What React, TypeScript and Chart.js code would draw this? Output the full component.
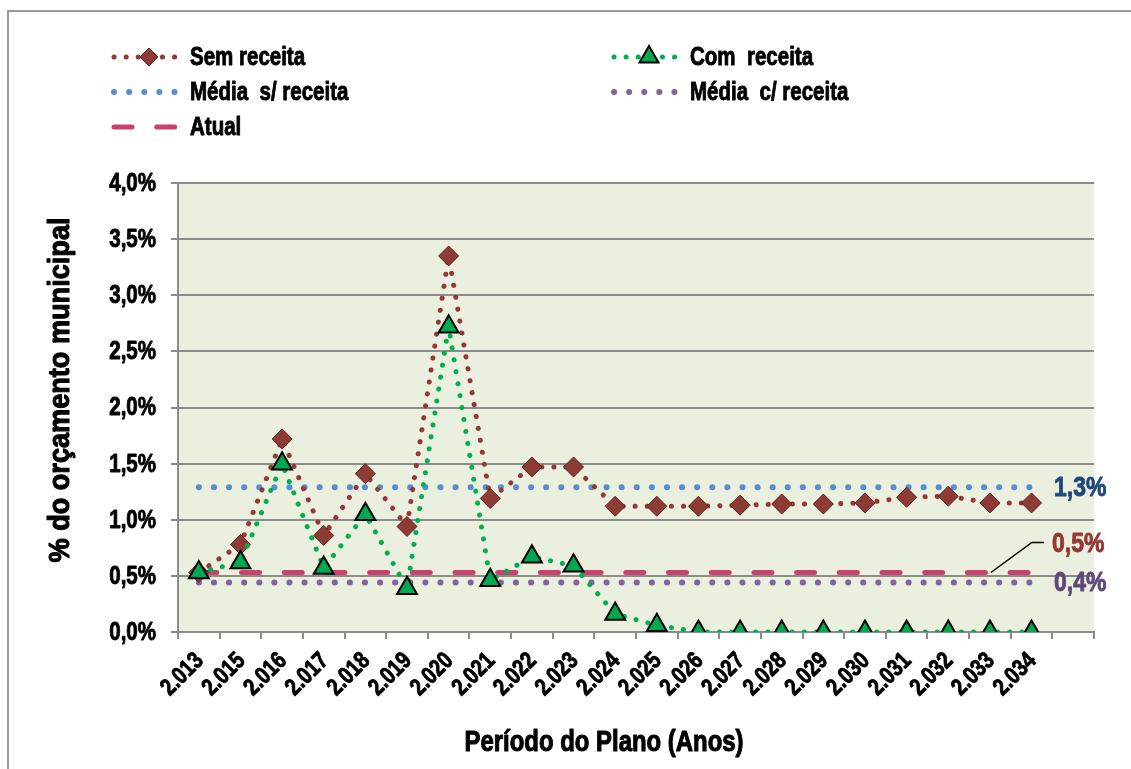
import React, { useEffect, useRef } from "react";
import { Chart, registerables } from "chart.js";

Chart.register(...registerables);

const categories = [
  "2.013", "2.015", "2.016", "2.017", "2.018", "2.019", "2.020", "2.021", "2.022", "2.023", "2.024",
  "2.025", "2.026", "2.027", "2.028", "2.029", "2.030", "2.031", "2.032", "2.033", "2.034", "",
];
const semReceita = [0.53, 0.78, 1.72, 0.86, 1.41, 0.94, 3.35, 1.19, 1.47, 1.47, 1.12, 1.12, 1.12, 1.13, 1.14, 1.14, 1.15, 1.2, 1.21, 1.15, 1.15];
const comReceita = [0.53, 0.62, 1.5, 0.57, 1.05, 0.39, 2.72, 0.46, 0.67, 0.59, 0.16, 0.06, 0, 0, 0, 0, 0, 0, 0, 0, 0];
const mediaSemReceita = [1.29, 1.29, 1.29, 1.29, 1.29, 1.29, 1.29, 1.29, 1.29, 1.29, 1.29, 1.29, 1.29, 1.29, 1.29, 1.29, 1.29, 1.29, 1.29, 1.29, 1.29];
const mediaComReceita = [0.44, 0.44, 0.44, 0.44, 0.44, 0.44, 0.44, 0.44, 0.44, 0.44, 0.44, 0.44, 0.44, 0.44, 0.44, 0.44, 0.44, 0.44, 0.44, 0.44, 0.44];
const atual = [0.53, 0.53, 0.53, 0.53, 0.53, 0.53, 0.53, 0.53, 0.53, 0.53, 0.53, 0.53, 0.53, 0.53, 0.53, 0.53, 0.53, 0.53, 0.53, 0.53, 0.53];
const seriesNames = ["Sem receita", "Com  receita", "Média  s/ receita", "Média  c/ receita", "Atual"];
const endLabels = ["1,3%", "0,5%", "0,4%"];
const yTickValues = [0, 0.5, 1, 1.5, 2, 2.5, 3, 3.5, 4];
const xTitle = "Período do Plano (Anos)";
const yTitle = "% do orçamento municipal";

const FONT = "'Liberation Sans', Arial, sans-serif";
const NARROW = 0.82;

function narrowText(ctx: CanvasRenderingContext2D, text: string, x: number, y: number, sx: number, align: "left" | "right" | "center", weight = 0.9) {
  const w = ctx.measureText(text).width * sx;
  let x0 = x;
  if (align === "right") x0 = x - w;
  else if (align === "center") x0 = x - w / 2;
  ctx.save();
  ctx.textAlign = "left";
  ctx.translate(x0, y);
  ctx.scale(sx, 1);
  ctx.fillText(text, 0, 0);
  ctx.strokeStyle = ctx.fillStyle as string;
  ctx.lineWidth = weight;
  ctx.lineJoin = "round";
  ctx.strokeText(text, 0, 0);
  ctx.restore();
}

const bgPlugin = {
  id: "bgPlugin",
  beforeDraw(chart: any) {
    const { ctx, chartArea } = chart;
    ctx.save();
    ctx.fillStyle = "#EBEFDD";
    ctx.fillRect(chartArea.left, chartArea.top, chartArea.right - chartArea.left, chartArea.bottom - chartArea.top);
    ctx.strokeStyle = "#9a9a9a";
    ctx.lineWidth = 2;
    ctx.beginPath();
    ctx.moveTo(8, chart.height);
    ctx.lineTo(8, 11);
    ctx.lineTo(chart.width, 11);
    ctx.stroke();
    ctx.restore();
  },
};

function drawPt(ctx: CanvasRenderingContext2D, style: string, r: number, x: number, y: number) {
  ctx.beginPath();
  if (style === "rectRot") {
    ctx.moveTo(x, y - r);
    ctx.lineTo(x + r, y);
    ctx.lineTo(x, y + r);
    ctx.lineTo(x - r, y);
  } else {
    const s = r * Math.sqrt(3);
    const h = (s * Math.sqrt(3)) / 2;
    ctx.moveTo(x, y - (2 * h) / 3);
    ctx.lineTo(x + s / 2, y + h / 3);
    ctx.lineTo(x - s / 2, y + h / 3);
  }
  ctx.closePath();
  ctx.fill();
  ctx.stroke();
}

const decorPlugin = {
  id: "decorPlugin",
  afterDraw(chart: any) {
    const { ctx, chartArea, scales } = chart;
    const xS = scales.x;
    const yS = scales.y;
    ctx.save();
    ctx.fillStyle = "#000";
    ctx.textBaseline = "middle";

    // y tick labels
    ctx.font = `bold 25px ${FONT}`;
    yS.ticks.forEach((t: any, i: number) => {
      const label = Number(t.value).toFixed(1).replace(".", ",") + "%";
      narrowText(ctx, label, chartArea.left - 22, yS.getPixelForTick(i) + 1, NARROW, "right");
    });

    // x tick labels (rotated)
    ctx.font = `bold 24px ${FONT}`;
    categories.forEach((c, i) => {
      if (!c) return;
      const px = xS.getPixelForValue(i);
      ctx.save();
      ctx.translate(px + 1, chartArea.bottom + 25);
      ctx.rotate(-Math.PI / 4);
      narrowText(ctx, c, 0, 0, NARROW, "right");
      ctx.restore();
    });

    // axis titles
    ctx.font = `bold 30px ${FONT}`;
    {
      const w = ctx.measureText(xTitle).width;
      narrowText(ctx, xTitle, 604, 743, 279 / w, "center", 1.1);
    }
    ctx.save();
    ctx.translate(61, 390);
    ctx.rotate(-Math.PI / 2);
    {
      const w = ctx.measureText(yTitle).width;
      narrowText(ctx, yTitle, 0, 0, 345 / w, "center", 1.1);
    }
    ctx.restore();

    // legend
    const items = [
      { ds: 0, x: 112, y: 57 },
      { ds: 1, x: 612, y: 57 },
      { ds: 2, x: 112, y: 92 },
      { ds: 3, x: 612, y: 92 },
      { ds: 4, x: 112, y: 127 },
    ];
    ctx.font = `bold 25px ${FONT}`;
    for (const it of items) {
      const ds = chart.data.datasets[it.ds];
      ctx.save();
      ctx.strokeStyle = ds.borderColor;
      ctx.lineWidth = ds.borderWidth;
      ctx.lineCap = "round";
      ctx.setLineDash(ds.borderDash || []);
      ctx.beginPath();
      ctx.moveTo(it.x + 2, it.y);
      ctx.lineTo(it.x + 68, it.y);
      ctx.stroke();
      ctx.restore();
      if (ds.pointRadius > 0) {
        ctx.save();
        ctx.fillStyle = ds.pointBackgroundColor;
        ctx.strokeStyle = ds.pointBorderColor;
        ctx.lineWidth = ds.pointBorderWidth;
        drawPt(ctx, ds.pointStyle, ds.pointStyle === "rectRot" ? 9 : 11, it.x + 37, it.y);
        ctx.restore();
      }
      ctx.fillStyle = "#000";
      narrowText(ctx, ds.label, it.x + 78, it.y + 1, NARROW, "left");
    }

    // end labels
    ctx.font = `bold 28px ${FONT}`;
    const lx = chartArea.right - 40;
    ctx.fillStyle = "#1F497D";
    narrowText(ctx, endLabels[0], lx, yS.getPixelForValue(mediaSemReceita[20]) + 1, NARROW, "left");
    ctx.fillStyle = "#953735";
    narrowText(ctx, endLabels[1], lx - 2, yS.getPixelForValue(atual[20]) - 28, NARROW, "left");
    ctx.fillStyle = "#5F497A";
    narrowText(ctx, endLabels[2], lx, yS.getPixelForValue(mediaComReceita[20]) + 1, NARROW, "left");

    // leader line
    const sx = xS.getPixelForValue(19);
    const sy = yS.getPixelForValue(atual[19]);
    ctx.strokeStyle = "#000";
    ctx.lineWidth = 1.5;
    ctx.setLineDash([]);
    ctx.beginPath();
    ctx.moveTo(sx + 1, sy);
    ctx.lineTo(sx + 42, sy - 30);
    ctx.lineTo(sx + 54, sy - 30);
    ctx.stroke();
    ctx.restore();
  },
};

export default function App() {
  const ref = useRef<HTMLCanvasElement>(null);
  useEffect(() => {
    if (!ref.current) return;
    const chart = new Chart(ref.current, {
      type: "line",
      data: {
        labels: categories,
        datasets: [
          {
            label: seriesNames[0],
            data: semReceita,
            borderColor: "#953735",
            borderWidth: 5,
            borderDash: [0.1, 12],
            borderCapStyle: "round",
            pointStyle: "rectRot",
            pointRadius: 10,
            pointBackgroundColor: "#8E3A35",
            pointBorderColor: "#5A2420",
            pointBorderWidth: 1,
            tension: 0,
            order: 1,
          } as any,
          {
            label: seriesNames[1],
            data: comReceita,
            borderColor: "#00B050",
            borderWidth: 5,
            borderDash: [0.1, 12],
            borderCapStyle: "round",
            pointStyle: "triangle",
            pointRadius: 11.5,
            pointBackgroundColor: "#00A850",
            pointBorderColor: "#000000",
            pointBorderWidth: 2,
            tension: 0,
            order: 0,
          } as any,
          {
            label: seriesNames[2],
            data: mediaSemReceita,
            borderColor: "#558ED5",
            borderWidth: 6,
            borderDash: [0.1, 15],
            borderCapStyle: "round",
            pointRadius: 0,
            order: 3,
          } as any,
          {
            label: seriesNames[3],
            data: mediaComReceita,
            borderColor: "#8064A2",
            borderWidth: 6,
            borderDash: [0.1, 15],
            borderCapStyle: "round",
            pointRadius: 0,
            order: 4,
          } as any,
          {
            label: seriesNames[4],
            data: atual,
            borderColor: "#C8426D",
            borderWidth: 5,
            borderDash: [18, 24.7],
            borderCapStyle: "round",
            pointRadius: 0,
            order: 2,
          } as any,
        ],
      },
      options: {
        animation: false,
        responsive: false,
        devicePixelRatio: 1,
        layout: { padding: { top: 183, right: 37, left: 0, bottom: 0 } },
        plugins: { legend: { display: false }, tooltip: { enabled: false } },
        scales: {
          x: {
            type: "category",
            offset: true,
            grid: { offset: true, drawOnChartArea: false, drawTicks: true, tickLength: 7, color: "#8c8c8c", lineWidth: 2 },
            border: { color: "#8c8c8c", width: 2 },
            ticks: { display: false, autoSkip: false },
            afterFit(s: any) {
              s.height = 137;
            },
          },
          y: {
            min: 0,
            max: 4,
            afterBuildTicks(s: any) {
              s.ticks = yTickValues.map((v) => ({ value: v }));
            },
            grid: { color: "#8c8c8c", lineWidth: 2, tickLength: 7 },
            border: { color: "#8c8c8c", width: 2 },
            ticks: { display: false },
            afterFit(s: any) {
              s.width = 178;
            },
          },
        },
      },
      plugins: [bgPlugin, decorPlugin],
    } as any);
    return () => chart.destroy();
  }, []);
  return (
    <div style={{ position: "fixed", left: 0, top: 0, width: 1131, height: 769, background: "#fff" }}>
      <canvas ref={ref} width={1131} height={769} style={{ width: 1131, height: 769 }} />
    </div>
  );
}
